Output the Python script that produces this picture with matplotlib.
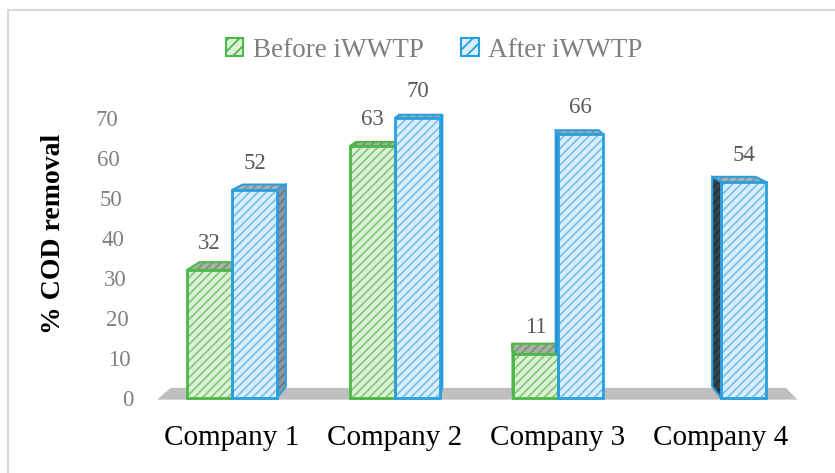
import matplotlib
matplotlib.use("Agg")
import matplotlib.pyplot as plt
import matplotlib.transforms as mtransforms
from matplotlib.patches import Patch, Polygon, Rectangle
import numpy as np

plt.rcParams['font.family'] = ['Liberation Serif', 'DejaVu Serif']
plt.rcParams['hatch.linewidth'] = 1.3

# ── data ──────────────────────────────────────────────────────────────────────
companies = ["Company 1", "Company 2", "Company 3", "Company 4"]
before = [32, 63, 11, np.nan]     # Company 4 has no "before" value
after = [52, 70, 66, 54]
series_names = ["Before iWWTP", "After iWWTP"]
yticks = [0, 10, 20, 30, 40, 50, 60, 70]

# ── styling ───────────────────────────────────────────────────────────────────
GREEN_EDGE, GREEN_FACE, GREEN_HATCH = '#4CB848', '#DDF1D8', '#86CC7B'
BLUE_EDGE, BLUE_FACE, BLUE_HATCH = '#2A9FDF', '#DAEEFB', '#7CC1EC'
BAR_W = 0.276

# fake 3-D: every back corner is pulled towards a vanishing point
VPX, VPY, KX, KY = 1.644, 97.5, 0.04, 0.03


def back(px, py):
    return px + KX * (VPX - px), py + KY * (VPY - py)


fig = plt.figure(figsize=(8.35, 4.73), dpi=100)
ax = fig.add_axes([0.1677, 0.1416, 0.8024, 0.6469])
ax.set_xlim(-0.564, 3.546)
ax.set_ylim(-2, 74.5)
for s in ax.spines.values():
    s.set_visible(False)

# figure frame (light grey, runs off the right/bottom edge)
fig.add_artist(Rectangle((8 / 835, -0.1), 1.2, 1.1 - 10 / 473,
                         transform=fig.transFigure, fill=False,
                         edgecolor='#D9D9D9', linewidth=1.5))

# floor slab
fx0, fx1, fy = -0.46, 3.47, -0.4
ax.add_patch(Polygon([(fx0, fy), (fx1, fy), back(fx1, fy), back(fx0, fy)],
                     closed=True, facecolor='#BFBFBF', edgecolor='none',
                     zorder=1, clip_on=False))

x = np.arange(len(companies))
groups = [
    (x - BAR_W / 2, before, GREEN_FACE, GREEN_HATCH, GREEN_EDGE,
     '#A3B5A0', '#7E8F7B'),
    (x + BAR_W / 2, after, BLUE_FACE, BLUE_HATCH, BLUE_EDGE,
     '#A9B1B7', '#85909A'),
]

fronts = []
for xs, vals, face, hatch_c, edge, top_c, top_h in groups:
    vals = np.array(vals, dtype=float)
    ok = ~np.isnan(vals)
    bars = ax.bar(xs[ok], vals[ok], BAR_W, color=face, edgecolor=hatch_c,
                  hatch='////', linewidth=0, zorder=3)
    fronts.append((bars, vals[ok], edge))

    # top and side faces behind the front
    for rect in bars:
        x0 = rect.get_x()
        x1 = x0 + rect.get_width()
        h = rect.get_height()
        top = [(x0, h), (x1, h), back(x1, h), back(x0, h)]
        ax.add_patch(Polygon(top, closed=True, facecolor=top_c,
                             edgecolor=top_h, hatch='////', linewidth=0,
                             zorder=2, clip_on=False))
        ax.add_patch(Polygon(top, closed=True, fill=False, edgecolor=edge,
                             linewidth=1.5, zorder=2, clip_on=False))
        if VPX > x1:
            side = [(x1, 0), (x1, h), back(x1, h), back(x1, 0)]
            sc, sh = '#8E979E', '#6F787F'
        else:
            side = [(x0, 0), (x0, h), back(x0, h), back(x0, 0)]
            sc, sh = '#35424E', '#27313A'
        ax.add_patch(Polygon(side, closed=True, facecolor=sc, edgecolor=sh,
                             hatch='////', linewidth=0, zorder=2,
                             clip_on=False))
        ax.add_patch(Polygon(side, closed=True, fill=False, edgecolor=edge,
                             linewidth=1.5, zorder=2, clip_on=False))

# front outlines on top, blue last so the shared edge is blue
for bars, vals, edge in fronts:
    for rect in bars:
        ax.add_patch(Rectangle((rect.get_x(), 0), rect.get_width(),
                               rect.get_height(), fill=False,
                               edgecolor=edge, linewidth=2, zorder=4))
    for rect, v in zip(bars, vals):
        ax.annotate(f"{v:.0f}", (rect.get_x() + rect.get_width() / 2, v),
                    xytext=(0, 19), textcoords='offset points',
                    ha='center', va='center', fontsize=16.5,
                    color='#595959', zorder=5)

# ── axes text ─────────────────────────────────────────────────────────────────
ax.set_xticks(x)
ax.set_xticklabels(companies, fontsize=21, color='black')
ax.tick_params(axis='x', length=0, pad=14)

ax.set_yticks(yticks)
ax.set_yticklabels([str(t) for t in yticks], fontsize=16.5, color='#808080')
ax.tick_params(axis='y', length=0, pad=5)
# tick labels lean with the perspective of the back wall
for t, lab in zip(yticks, ax.get_yticklabels()):
    shift = mtransforms.ScaledTranslation(-(t / 70) * 15 / 100, 0,
                                          fig.dpi_scale_trans)
    lab.set_transform(lab.get_transform() + shift)

fig.text(54 / 835, 1 - 234 / 473, "% COD removal", rotation=90,
         ha='center', va='center', fontsize=20, fontweight='bold',
         color='black')

handles = [
    Patch(facecolor=GREEN_FACE, edgecolor=GREEN_EDGE, hatch='///',
          linewidth=1.5, label=series_names[0]),
    Patch(facecolor=BLUE_FACE, edgecolor=BLUE_EDGE, hatch='///',
          linewidth=1.5, label=series_names[1]),
]
leg = fig.legend(handles=handles, loc='center', ncol=2,
                 bbox_to_anchor=(0.52, 0.894), frameon=False, fontsize=19.5,
                 handlelength=0.65, handleheight=0.65, handletextpad=0.35,
                 columnspacing=1.4)
for txt in leg.get_texts():
    txt.set_color('#7F7F7F')

fig.savefig("out.png", dpi=100)
